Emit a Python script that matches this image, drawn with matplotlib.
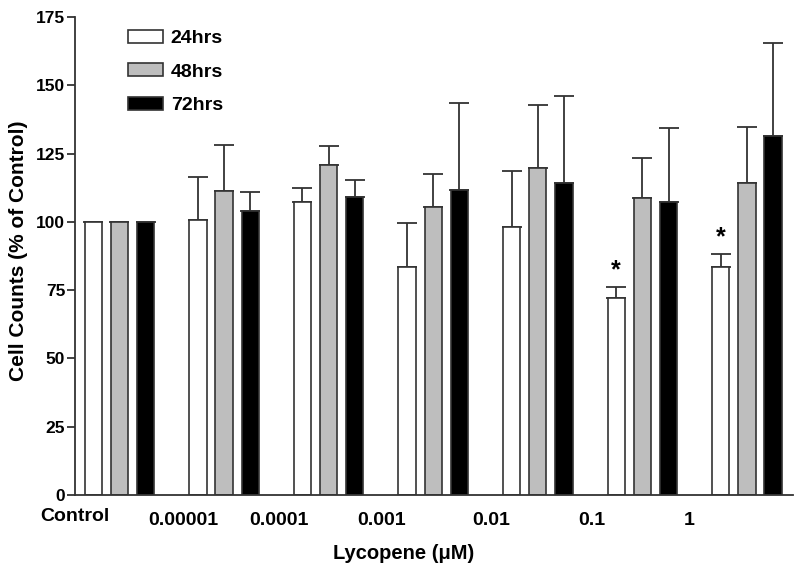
import numpy as np
import matplotlib.pyplot as plt
from matplotlib.patches import Patch

plt.rcParams['font.family'] = ['Liberation Sans', 'DejaVu Sans']
plt.rcParams['font.weight'] = 'bold'

# Data
categories = ['Control', '0.00001', '0.0001', '0.001', '0.01', '0.1', '1']
series = ['24hrs', '48hrs', '72hrs']
mean_24 = [100, 100.7, 107.2, 83.5, 98.0, 72.1, 83.4]
mean_48 = [100, 111.3, 120.9, 105.6, 119.9, 108.8, 114.4]
mean_72 = [100, 104.0, 109.0, 111.7, 114.4, 107.4, 131.5]
err_24 = [np.nan, 15.7, 5.1, 16.0, 20.8, 4.1, 4.8]
err_48 = [np.nan, 16.9, 7.0, 11.8, 22.8, 14.6, 20.4]
err_72 = [np.nan, 7.0, 6.4, 31.7, 31.7, 26.9, 33.9]
signif_24 = [False, False, False, False, False, True, True]

# Label positions are shifted left of the groups in the original
label_pos = [-0.425, 0.607, 1.525, 2.51, 3.55, 4.52, 5.45]

fig = plt.figure(figsize=(8, 5.72), dpi=100)
ax = fig.add_axes([75 / 800, 1 - 495 / 572, 718 / 800, 478 / 572])

x = np.arange(len(categories))
step = 0.25
width = 0.165
fills = ['white', '#bebebe', 'black']
edge = '#333333'

means = [mean_24, mean_48, mean_72]
errs = [err_24, err_48, err_72]
for k in range(3):
    xk = x + (k - 1) * step
    ax.bar(xk, means[k], width, color=fills[k], edgecolor=edge, linewidth=1.2, zorder=2)
    e = np.array(errs[k])
    ax.errorbar(xk, means[k], yerr=[np.zeros_like(e), e], fmt='none',
                ecolor=edge, elinewidth=1.3, capsize=7, capthick=1.3, zorder=1)

# significance stars above 24hrs bars
for i, s in enumerate(signif_24):
    if s:
        ax.text(x[i] - step, mean_24[i] + err_24[i] + 3.5, '*', ha='center',
                va='baseline', fontsize=18, fontweight='bold')

ax.set_xlim(-0.425, 6.44)
ax.set_ylim(0, 175)
ax.set_yticks([0, 25, 50, 75, 100, 125, 150, 175])
ax.tick_params(axis='y', length=6, width=1.3, color=edge, pad=1, labelsize=12.5)
ax.set_xticks([])
for sp in ['top', 'right']:
    ax.spines[sp].set_visible(False)
for sp in ['left', 'bottom']:
    ax.spines[sp].set_color(edge)
    ax.spines[sp].set_linewidth(1.3)

for i, lab in enumerate(categories):
    yoff = -0.044 if i == 0 else -0.053
    ax.text(label_pos[i], yoff, lab, transform=ax.get_xaxis_transform(),
            ha='center', va='center', fontsize=14, fontweight='bold')

ax.set_xlabel('Lycopene (\u03bcM)', fontsize=14.5, fontweight='bold')
ax.xaxis.set_label_coords((404 - 75) / 718, -0.102)
ax.set_ylabel('Cell Counts (% of Control)', fontsize=15, fontweight='bold')
ax.yaxis.set_label_coords((28 - 75) / 718, 0.51)

handles = [Patch(facecolor=fills[k], edgecolor=edge, linewidth=1.2) for k in range(3)]
ax.legend(handles, series, loc='upper left', bbox_to_anchor=(128 / 800, 1 - 30 / 572),
          bbox_transform=fig.transFigure, frameon=False, borderpad=0, borderaxespad=0,
          handlelength=1.8, handleheight=0.65, handletextpad=0.4, labelspacing=0.82,
          prop={'size': 14, 'weight': 'bold'})

fig.savefig('out.png', dpi=100)
